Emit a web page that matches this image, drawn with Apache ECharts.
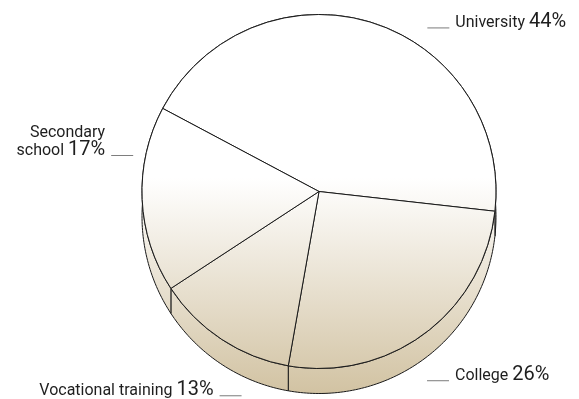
<!DOCTYPE html>
<html>
<head>
<meta charset="utf-8">
<script src="https://cdn.jsdelivr.net/npm/echarts@6/dist/echarts.min.js"></script>
<style>
  html, body { margin: 0; padding: 0; background: #ffffff; }
  #chart { width: 579px; height: 399px; }
</style>
</head>
<body>
<div id="chart"></div>
<script>
// Highest level of education, share of respondents (%)
const categories = ['University', 'College', 'Vocational training', 'Secondary school'];
const shares = [44, 26, 13, 17];

// Pie geometry (pixels): top face centre, radius, extrusion depth, first slice start angle
const CX = 319, CY = 191.5, R = 177, DEPTH = 25, START = 152;

// Label offsets from each slice's outer mid point
const labelNudge = [[51, 0], [-3, 42], [25, 51], [-4, -62]];

const fill = new echarts.graphic.LinearGradient(0, 178, 0, 392, [
  { offset: 0, color: '#ffffff' },
  { offset: 1, color: '#d2c3a3' }
], true);

const total = shares.reduce((a, b) => a + b, 0);

function sliceAngles(i) {
  let acc = 0;
  for (let k = 0; k < i; k++) acc += shares[k];
  const a1 = START - acc / total * 360;
  const a2 = a1 - shares[i] / total * 360;
  return [a1, a2];
}

// Side wall of each slice: its outer arc swept straight down by DEPTH
function renderSide(params) {
  const [a1, a2] = sliceAngles(params.dataIndex);
  const steps = Math.max(2, Math.ceil(Math.abs(a1 - a2)));
  const upper = [], lower = [];
  for (let s = 0; s <= steps; s++) {
    const a = (a1 + (a2 - a1) * s / steps) * Math.PI / 180;
    const x = CX + R * Math.cos(a);
    const y = CY - R * Math.sin(a);
    upper.push([x, y]);
    lower.push([x, y + DEPTH]);
  }
  return {
    type: 'polygon',
    shape: { points: upper.concat(lower.reverse()) },
    style: { fill: fill, stroke: '#1a1a1a', lineWidth: 1 }
  };
}

function labelText(p) {
  const i = p.dataIndex;
  const pct = shares[i] + '%';
  if (i === 3) {
    return '{n|Secondary}{sp|}\n{n|school }{p|' + pct + '}{g|}{ln|}';
  }
  if (i === 2) {
    return '{n|' + categories[i] + ' }{p|' + pct + '}{g|}{ln|}';
  }
  return '{ln|}{g|}{n|' + categories[i] + ' }{p|' + pct + '}';
}

const chart = echarts.init(document.getElementById('chart'), null, { renderer: 'canvas' });

chart.setOption({
  animation: false,
  backgroundColor: '#ffffff',
  series: [
    {
      type: 'custom',
      coordinateSystem: 'none',
      silent: true,
      z: 1,
      data: shares,
      renderItem: renderSide
    },
    {
      type: 'pie',
      z: 2,
      center: [CX, CY],
      radius: R,
      startAngle: START,
      clockwise: true,
      avoidLabelOverlap: false,
      silent: true,
      data: categories.map((name, i) => ({ name: name, value: shares[i] })),
      itemStyle: { color: fill, borderColor: '#1a1a1a', borderWidth: 1 },
      labelLine: { show: false, length: 0, length2: 0 },
      label: {
        show: true,
        position: 'outside',
        formatter: labelText,
        fontFamily: 'Roboto',
        color: '#1e1e1e',
        rich: {
          n: { fontFamily: 'Roboto', fontSize: 16, color: '#1e1e1e', lineHeight: 12, padding: [2, 0, 0, 0] },
          p: { fontFamily: 'Roboto', fontSize: 20, color: '#1e1e1e', lineHeight: 12 },
          g: { width: 6, lineHeight: 12 },
          sp: { width: 28, lineHeight: 25 },
          ln: { width: 22, height: 1, lineHeight: 12, backgroundColor: '#7a7a7a', verticalAlign: 'bottom' }
        }
      },
      labelLayout: function (params) {
        const o = labelNudge[params.dataIndex];
        return { dx: o[0], dy: o[1] };
      }
    }
  ]
});
</script>
</body>
</html>
